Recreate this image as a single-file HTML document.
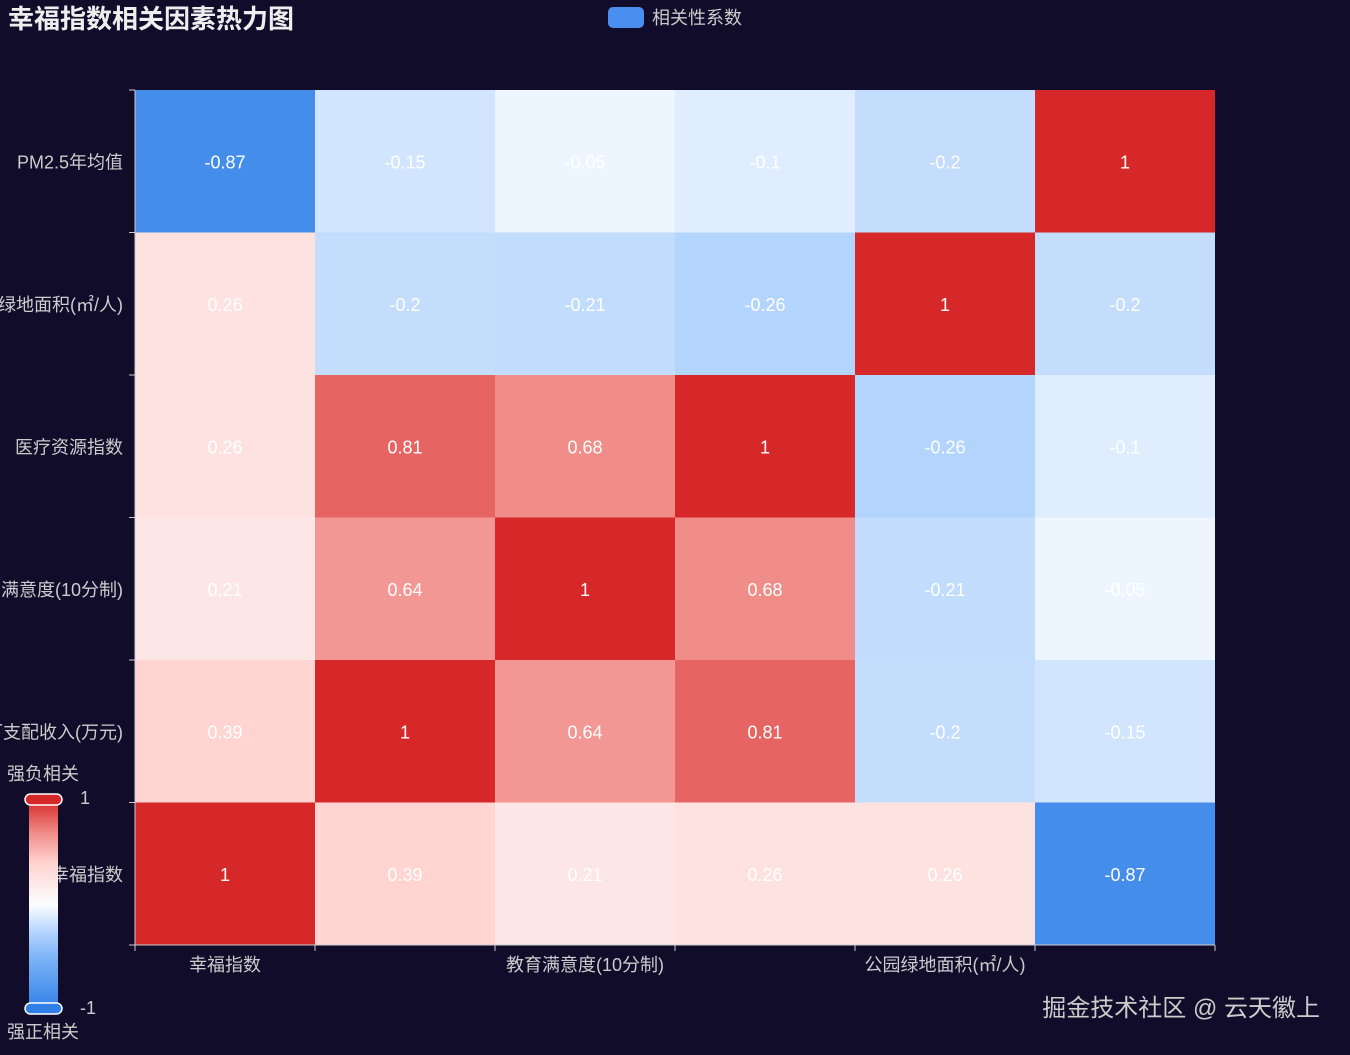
<!DOCTYPE html>
<html><head><meta charset="utf-8"><style>
body{margin:0;background:#100c2a;width:1350px;height:1050px;overflow:hidden;font-family:"Liberation Sans","Noto Sans CJK SC",sans-serif;}
</style></head><body>
<svg id="chart" width="1350" height="1050" xmlns="http://www.w3.org/2000/svg" style="font-family:'Liberation Sans','Noto Sans CJK SC',sans-serif">
<text x="8" y="28" fill="#eee" font-size="26" font-weight="bold">幸福指数相关因素热力图</text>
<g>
<rect x="608" y="7" width="36" height="21" rx="5" fill="#4a8ff0"/>
<text x="652" y="24" fill="#ccc" font-size="18">相关性系数</text>
</g>
<g id="cells"></g>
<g id="axes"></g>
<g>
<defs><linearGradient id="vm" x1="0" y1="1" x2="0" y2="0">
<stop offset="0" stop-color="#2f7fe6"/><stop offset="0.25" stop-color="#7eb4f6"/><stop offset="0.37" stop-color="#b3d4fd"/><stop offset="0.5" stop-color="#fbfdff"/><stop offset="0.7" stop-color="#ffd3d0"/><stop offset="0.85" stop-color="#ef8884"/><stop offset="1" stop-color="#d62828"/></linearGradient></defs>
<rect x="29" y="800" width="29" height="210" fill="url(#vm)"/>
<rect x="25" y="794" width="37" height="11" rx="5.5" fill="#d62828" stroke="#fff" stroke-width="1.5"/>
<rect x="25" y="1003" width="37" height="11" rx="5.5" fill="#2f7fe6" stroke="#fff" stroke-width="1.5"/>
<text x="80" y="804" fill="#ccc" font-size="18">1</text>
<text x="80" y="1014" fill="#ccc" font-size="18">-1</text>
<text x="7" y="780" fill="#ccc" font-size="18">强负相关</text>
<text x="7" y="1038" fill="#ccc" font-size="18">强正相关</text>
</g>
<text x="1320" y="1016" text-anchor="end" fill="#ccc" font-size="24">掘金技术社区 @ 云天徽上</text>
</svg>
<script>
const xCats=["幸福指数","可支配收入(万元)","教育满意度(10分制)","医疗资源指数","公园绿地面积(㎡/人)","PM2.5年均值"];
const yCats=["幸福指数","可支配收入(万元)","教育满意度(10分制)","医疗资源指数","公园绿地面积(㎡/人)","PM2.5年均值"];
const row0=[1,0.39,0.21,0.26,0.26,-0.87];
const row1=[0.39,1,0.64,0.81,-0.2,-0.15];
const row2=[0.21,0.64,1,0.68,-0.21,-0.05];
const row3=[0.26,0.81,0.68,1,-0.26,-0.1];
const row4=[0.26,-0.2,-0.21,-0.26,1,-0.2];
const row5=[-0.87,-0.15,-0.05,-0.1,-0.2,1];
const values=[row0,row1,row2,row3,row4,row5];
const L=135,R=1215,T=90,B=945;
const cw=(R-L)/xCats.length, ch=(B-T)/yCats.length;
const xPos=i=>L+i*cw;
const yPos=j=>B-(j+1)*ch;
const stops=[[-1,[47,127,230]],[-0.5,[126,180,246]],[-0.26,[179,212,253]],[0,[251,253,255]],[0.4,[255,211,208]],[0.7,[239,136,132]],[1,[214,40,40]]];
function color(v){for(let k=0;k<stops.length-1;k++){const a=stops[k],b=stops[k+1];if(v<=b[0]){const t=(v-a[0])/(b[0]-a[0]);return 'rgb('+a[1].map((c,i)=>Math.round(c+(b[1][i]-c)*t)).join(',')+')';}}return 'rgb(214,40,40)';}
const NS="http://www.w3.org/2000/svg";
const cells=document.getElementById('cells'),axes=document.getElementById('axes');
function mk(tag,at,parent){const e=document.createElementNS(NS,tag);for(const k in at)e.setAttribute(k,at[k]);parent.appendChild(e);return e;}
values.forEach((row,j)=>row.forEach((v,i)=>{
 const r=mk('rect',{x:xPos(i),y:yPos(j),width:cw,height:ch,fill:color(v)},cells);
 
 
 const t=mk('text',{x:xPos(i)+cw/2,y:yPos(j)+ch/2+7,'text-anchor':'middle',fill:'#fff','font-size':18},cells);
 
 
 t.textContent=v;
}));
mk('line',{x1:L,y1:B,x2:R,y2:B,stroke:'#ccc'},axes);
mk('line',{x1:L,y1:T,x2:L,y2:B,stroke:'#ccc'},axes);
for(let i=0;i<=xCats.length;i++)mk('line',{x1:xPos(i),y1:B,x2:xPos(i),y2:B+6,stroke:'#ccc'},axes);
for(let j=0;j<=yCats.length;j++)mk('line',{x1:L-6,y1:B-j*ch,x2:L,y2:B-j*ch,stroke:'#ccc'},axes);
xCats.forEach((c,i)=>{if(i%2)return;const t=mk('text',{x:xPos(i)+cw/2,y:B+26,'text-anchor':'middle',fill:'#ccc','font-size':18},axes);
 
 
 t.textContent=c;});
yCats.forEach((c,j)=>{const t=mk('text',{x:L-12,y:yPos(j)+ch/2+7,'text-anchor':'end',fill:'#ccc','font-size':18},axes);
 
 
 t.textContent=c;});
</script>
</body></html>
